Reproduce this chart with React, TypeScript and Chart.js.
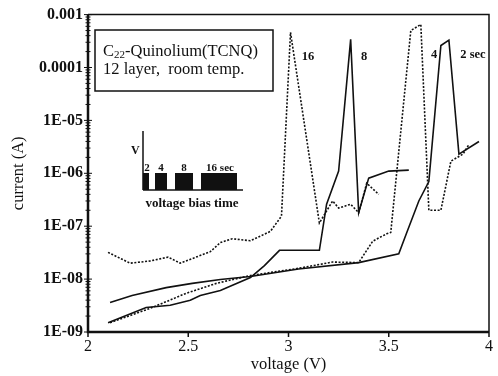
import React, { useEffect, useRef } from "react";
import { Chart, registerables } from "chart.js";
Chart.register(...registerables);

// ---- data (voltage in V, current in A) ----
const v16 = [2.10, 2.21, 2.31, 2.40, 2.46, 2.61, 2.66, 2.72, 2.81, 2.91, 2.965, 3.01, 3.154, 3.22, 3.25, 3.31, 3.35, 3.39, 3.45];
const i16 = [3.2e-8, 2.0e-8, 2.2e-8, 2.6e-8, 2.0e-8, 3.3e-8, 4.9e-8, 5.8e-8, 5.3e-8, 8e-8, 1.55e-7, 4.6e-4, 1.15e-7, 3e-7, 2.2e-7, 2.6e-7, 1.8e-7, 6.5e-7, 4e-7];

const v8 = [2.10, 2.29, 2.41, 2.51, 2.56, 2.66, 2.81, 2.88, 2.955, 3.154, 3.19, 3.25, 3.31, 3.35, 3.40, 3.50, 3.60];
const i8 = [1.5e-9, 2.9e-9, 3.2e-9, 4e-9, 4.9e-9, 6.1e-9, 1.07e-8, 1.8e-8, 3.5e-8, 3.5e-8, 2.6e-7, 1.1e-6, 3.4e-4, 1.8e-7, 8.1e-7, 1.1e-6, 1.15e-6];

const v4 = [2.11, 2.31, 2.49, 2.64, 2.81, 3.05, 3.22, 3.35, 3.42, 3.49, 3.51, 3.61, 3.66, 3.70, 3.76, 3.81, 3.87, 3.90];
const i4 = [1.5e-9, 2.8e-9, 5.4e-9, 8.3e-9, 1.17e-8, 1.6e-8, 2.1e-8, 2.05e-8, 5.2e-8, 7.2e-8, 7.6e-8, 5e-4, 6.5e-4, 2e-7, 2e-7, 1.7e-6, 2.3e-6, 3.5e-6];

const v2 = [2.11, 2.22, 2.39, 2.52, 2.66, 2.81, 3.05, 3.35, 3.55, 3.59, 3.65, 3.70, 3.76, 3.80, 3.85, 3.95];
const i2 = [3.6e-9, 4.9e-9, 6.9e-9, 8.3e-9, 9.8e-9, 1.12e-8, 1.55e-8, 2.05e-8, 3e-8, 7.6e-8, 3e-7, 7e-7, 2.6e-4, 3.3e-4, 2.3e-6, 4e-6];

const yTickValues = [1e-9, 1e-8, 1e-7, 1e-6, 1e-5, 1e-4, 1e-3];
const yTickLabels = ["1E-09", "1E-08", "1E-07", "1E-06", "1E-05", "0.0001", "0.001"];
const xTickValues = [2, 2.5, 3, 3.5, 4];
const xTickLabels = ["2", "2.5", "3", "3.5", "4"];

const peakLabels = ["16", "8", "4", "2 sec"];
const pulseLabels = ["2", "4", "8", "16 sec"];

const INK = "#111";
const SERIF = "'Liberation Serif', 'Times New Roman', serif";

const toPts = (vs: number[], is: number[]) => vs.map((v, k) => ({ x: v, y: is[k] }));

const decor = {
  id: "decor",
  afterDraw(chart: any) {
    const ctx: CanvasRenderingContext2D = chart.ctx;
    const { left, right, top, bottom } = chart.chartArea;
    const ys = chart.scales.y;
    const xs = chart.scales.x;
    const line = (a: number, b: number, c: number, d: number) => {
      ctx.beginPath();
      ctx.moveTo(a, b);
      ctx.lineTo(c, d);
      ctx.stroke();
    };
    ctx.save();
    ctx.strokeStyle = INK;
    ctx.fillStyle = INK;
    // frame
    ctx.lineWidth = 1.5;
    ctx.beginPath();
    ctx.moveTo(left, top);
    ctx.lineTo(right, top);
    ctx.lineTo(right, bottom);
    ctx.stroke();
    ctx.lineWidth = 2.5;
    ctx.beginPath();
    ctx.moveTo(left, top);
    ctx.lineTo(left, bottom);
    ctx.lineTo(right, bottom);
    ctx.stroke();
    // y ticks (log minor)
    ctx.lineWidth = 1;
    for (let e = -9; e <= -3; e++) {
      for (let k = 1; k <= 9; k++) {
        const val = k * Math.pow(10, e);
        if (val > 1.0001e-3) break;
        const py = ys.getPixelForValue(val);
        const len = k === 1 ? 4 : 2.5;
        line(left - len, py, left + len, py);
      }
    }
    // x ticks
    ctx.lineWidth = 1.5;
    for (const v of xTickValues) {
      const px = xs.getPixelForValue(v);
      line(px, bottom, px, bottom + 5);
    }

    // legend box
    ctx.lineWidth = 1.5;
    ctx.strokeRect(95, 30, 178, 61);
    ctx.textBaseline = "alphabetic";
    ctx.textAlign = "left";
    ctx.font = `16.5px ${SERIF}`;
    let tx = 103;
    ctx.fillText("C", tx, 56);
    tx += ctx.measureText("C").width;
    ctx.font = `11px ${SERIF}`;
    ctx.fillText("22", tx, 58);
    tx += ctx.measureText("22").width;
    ctx.font = `16.5px ${SERIF}`;
    ctx.fillText("-Quinolium(TCNQ)", tx, 56);
    ctx.fillText("12 layer,  room temp.", 103, 74);

    // inset: voltage bias time
    ctx.lineWidth = 1.5;
    line(143, 131, 143, 190);
    line(143, 190, 243, 190);
    const pulses = [
      [143, 149],
      [155, 167],
      [175, 193],
      [201, 237],
    ];
    for (const [a, b] of pulses) ctx.fillRect(a, 173, b - a, 17);
    ctx.font = `bold 12px ${SERIF}`;
    ctx.textAlign = "left";
    ctx.fillText("V", 131, 154);
    ctx.textAlign = "center";
    ctx.font = `bold 11px ${SERIF}`;
    const pulseLabelX = [147, 161, 184, 220];
    pulseLabels.forEach((t, k) => ctx.fillText(t, pulseLabelX[k], 171));
    ctx.font = `bold 13px ${SERIF}`;
    ctx.fillText("voltage bias time", 192, 207);

    // peak labels
    ctx.font = `bold 12.5px ${SERIF}`;
    const peakX = [308, 364, 434, 473];
    const peakY = [60, 60, 58, 58];
    peakLabels.forEach((t, k) => ctx.fillText(t, peakX[k], peakY[k]));
    ctx.restore();
  },
};

export default function App() {
  const ref = useRef<HTMLCanvasElement | null>(null);
  useEffect(() => {
    if (!ref.current) return;
    const dotted = { borderDash: [2, 1.6], borderWidth: 1.6 };
    const solid = { borderWidth: 1.6 };
    const chart = new Chart(ref.current, {
      type: "line",
      data: {
        datasets: [
          { label: "16 sec", data: toPts(v16, i16), ...dotted },
          { label: "8 sec", data: toPts(v8, i8), ...solid },
          { label: "4 sec", data: toPts(v4, i4), ...dotted },
          { label: "2 sec", data: toPts(v2, i2), ...solid },
        ].map((d) => ({
          ...d,
          borderColor: INK,
          backgroundColor: INK,
          pointRadius: 0,
          tension: 0,
          fill: false,
        })) as any,
      },
      options: {
        animation: false,
        responsive: false,
        layout: { padding: { top: 12, right: 8, left: 0, bottom: 0 } },
        plugins: { legend: { display: false }, tooltip: { enabled: false } },
        scales: {
          x: {
            type: "linear",
            min: 2,
            max: 4,
            afterFit: (s: any) => {
              s.height = 44;
            },
            afterBuildTicks: (s: any) => {
              s.ticks = xTickValues.map((v) => ({ value: v }));
            },
            grid: { display: false, drawTicks: false },
            border: { display: false },
            ticks: {
              padding: 5,
              color: INK,
              font: { family: SERIF, size: 16 },
              callback: (v: any) => xTickLabels[xTickValues.indexOf(Number(v))] ?? "",
            },
            title: {
              display: true,
              text: "voltage (V)",
              color: INK,
              font: { family: SERIF, size: 16.5 },
              padding: { top: 0, bottom: 1 },
            },
          },
          y: {
            type: "logarithmic",
            min: 1e-9,
            max: 1e-3,
            afterFit: (s: any) => {
              s.width = 88;
            },
            afterBuildTicks: (s: any) => {
              s.ticks = yTickValues.map((v) => ({ value: v }));
            },
            grid: { display: false, drawTicks: false },
            border: { display: false },
            ticks: {
              padding: 5,
              autoSkip: false,
              color: INK,
              font: { family: SERIF, size: 16, weight: "bold" },
              callback: (v: any) => {
                const k = yTickValues.findIndex((t) => Math.abs(Math.log10(t) - Math.log10(Number(v))) < 1e-6);
                return k >= 0 ? yTickLabels[k] : "";
              },
            },
            title: {
              display: true,
              text: "current (A)",
              color: INK,
              font: { family: SERIF, size: 16.5 },
              padding: { top: 9, bottom: 0 },
            },
          },
        },
      },
      plugins: [decor],
    });
    return () => chart.destroy();
  }, []);
  return (
    <div style={{ position: "fixed", left: 0, top: 0, width: 498, height: 376, background: "#fff" }}>
      <canvas ref={ref} width={498} height={376} />
    </div>
  );
}
